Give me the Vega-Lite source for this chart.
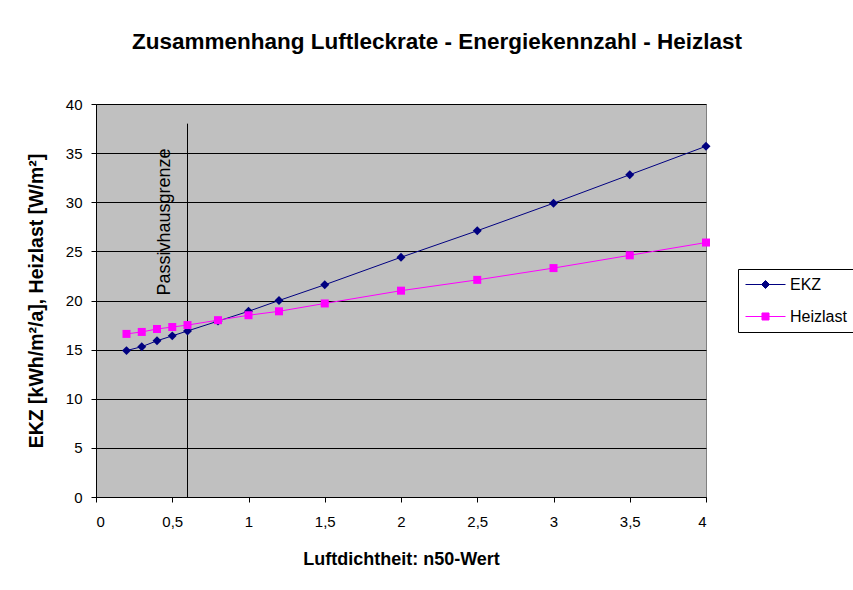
{
  "$schema": "https://vega.github.io/schema/vega-lite/v6.json",
  "width": 610,
  "height": 393,
  "autosize": {"type": "none"},
  "padding": {"left": 96, "top": 104, "right": 147, "bottom": 93},
  "background": "white",
  "title": {
    "text": "Zusammenhang Luftleckrate - Energiekennzahl - Heizlast",
    "font": "Liberation Sans",
    "fontSize": 22.5,
    "fontWeight": "bold",
    "color": "black",
    "anchor": "middle",
    "frame": "group",
    "baseline": "alphabetic",
    "offset": 26,
    "dx": 36
  },
  "config": {
    "view": {"fill": "#C0C0C0", "stroke": "#808080", "strokeWidth": 1},
    "axis": {
      "labelFont": "Liberation Sans",
      "titleFont": "Liberation Sans",
      "labelColor": "black",
      "titleColor": "black",
      "domainColor": "black",
      "tickColor": "black",
      "labelFontSize": 15,
      "titleFontSize": 18,
      "titleFontWeight": "bold",
      "tickSize": 5
    },
    "legend": {
      "labelFont": "Liberation Sans",
      "labelFontSize": 16,
      "labelColor": "black"
    }
  },
  "datasets": {
    "series": [
      {"n50": 0.2, "Reihe": "EKZ", "Wert": 14.9},
      {"n50": 0.3, "Reihe": "EKZ", "Wert": 15.3},
      {"n50": 0.4, "Reihe": "EKZ", "Wert": 15.9},
      {"n50": 0.5, "Reihe": "EKZ", "Wert": 16.4},
      {"n50": 0.6, "Reihe": "EKZ", "Wert": 16.9},
      {"n50": 0.8, "Reihe": "EKZ", "Wert": 17.9},
      {"n50": 1.0, "Reihe": "EKZ", "Wert": 18.9},
      {"n50": 1.2, "Reihe": "EKZ", "Wert": 20.0},
      {"n50": 1.5, "Reihe": "EKZ", "Wert": 21.6},
      {"n50": 2.0, "Reihe": "EKZ", "Wert": 24.4},
      {"n50": 2.5, "Reihe": "EKZ", "Wert": 27.1},
      {"n50": 3.0, "Reihe": "EKZ", "Wert": 29.9},
      {"n50": 3.5, "Reihe": "EKZ", "Wert": 32.8},
      {"n50": 4.0, "Reihe": "EKZ", "Wert": 35.7},
      {"n50": 0.2, "Reihe": "Heizlast", "Wert": 16.6},
      {"n50": 0.3, "Reihe": "Heizlast", "Wert": 16.8},
      {"n50": 0.4, "Reihe": "Heizlast", "Wert": 17.1},
      {"n50": 0.5, "Reihe": "Heizlast", "Wert": 17.3},
      {"n50": 0.6, "Reihe": "Heizlast", "Wert": 17.5},
      {"n50": 0.8, "Reihe": "Heizlast", "Wert": 18.0},
      {"n50": 1.0, "Reihe": "Heizlast", "Wert": 18.5},
      {"n50": 1.2, "Reihe": "Heizlast", "Wert": 18.9},
      {"n50": 1.5, "Reihe": "Heizlast", "Wert": 19.7},
      {"n50": 2.0, "Reihe": "Heizlast", "Wert": 21.0},
      {"n50": 2.5, "Reihe": "Heizlast", "Wert": 22.1},
      {"n50": 3.0, "Reihe": "Heizlast", "Wert": 23.3},
      {"n50": 3.5, "Reihe": "Heizlast", "Wert": 24.6},
      {"n50": 4.0, "Reihe": "Heizlast", "Wert": 25.9}
    ],
    "grenze": [
      {"n50": 0.6, "von": 0, "bis": 38, "textY": 20.5, "label": "Passivhausgrenze"}
    ]
  },
  "layer": [
    {
      "data": {"name": "grenze"},
      "mark": {"type": "rule", "color": "black", "strokeWidth": 1},
      "encoding": {
        "x": {"field": "n50", "type": "quantitative"},
        "y": {"field": "von", "type": "quantitative"},
        "y2": {"field": "bis"}
      }
    },
    {
      "data": {"name": "grenze"},
      "mark": {"type": "text", "angle": 270, "align": "left", "baseline": "bottom", "dy": -14, "font": "Liberation Sans", "fontSize": 18, "color": "black"},
      "encoding": {
        "x": {"field": "n50", "type": "quantitative"},
        "y": {"field": "textY", "type": "quantitative"},
        "text": {"field": "label"}
      }
    },
    {
      "data": {"name": "series"},
      "mark": {"type": "line", "strokeWidth": 1},
      "encoding": {
        "x": {
          "field": "n50", "type": "quantitative",
          "scale": {"domain": [0, 4], "nice": false},
          "axis": {
            "title": "Luftdichtheit: n50-Wert",
            "values": [0, 0.5, 1, 1.5, 2, 2.5, 3, 3.5, 4],
            "labelExpr": "replace(format(datum.value, '~g'), '.', ',')",
            "grid": false,
            "labelPadding": 12,
            "titlePadding": 21
          }
        },
        "y": {
          "field": "Wert", "type": "quantitative",
          "scale": {"domain": [0, 40], "nice": false},
          "axis": {
            "title": "EKZ [kWh/m²/a], Heizlast [W/m²]",
            "titleFontSize": 19.5,
            "values": [0, 5, 10, 15, 20, 25, 30, 35, 40],
            "grid": true,
            "gridColor": "black",
            "gridOpacity": 1,
            "labelPadding": 9,
            "titlePadding": 19
          }
        },
        "color": {
          "field": "Reihe", "type": "nominal",
          "scale": {"domain": ["EKZ", "Heizlast"], "range": ["#000080", "#FF00FF"]},
          "legend": {
            "title": null,
            "orient": "none",
            "legendX": 642,
            "legendY": 165,
            "strokeColor": "black",
            "fillColor": "white",
            "padding": 7,
            "rowPadding": 15,
            "labelOffset": 16,
            "symbolOffset": 12,
            "symbolSize": 256,
            "symbolStrokeWidth": 1,
            "symbolType": "M-2.5,0H2.5M0,-0.5L0.5,0L0,0.5L-0.5,0Z",
            "encode": {
              "symbols": {
                "update": {
                  "shape": {"signal": "datum.value === 'EKZ' ? 'M-2.5,0H2.5M0,-0.5L0.5,0L0,0.5L-0.5,0Z' : 'M-2.5,0H2.5M-0.44,-0.44H0.44V0.44H-0.44Z'"}
                }
              }
            }
          }
        }
      }
    },
    {
      "data": {"name": "series"},
      "transform": [{"filter": "datum.Reihe === 'EKZ'"}],
      "mark": {"type": "point", "shape": "diamond", "filled": true, "opacity": 1, "strokeWidth": 0, "size": 80},
      "encoding": {
        "x": {"field": "n50", "type": "quantitative"},
        "y": {"field": "Wert", "type": "quantitative"},
        "color": {"field": "Reihe", "type": "nominal"}
      }
    },
    {
      "data": {"name": "series"},
      "transform": [{"filter": "datum.Reihe === 'Heizlast'"}],
      "mark": {"type": "point", "shape": "square", "filled": true, "opacity": 1, "strokeWidth": 0, "size": 64},
      "encoding": {
        "x": {"field": "n50", "type": "quantitative"},
        "y": {"field": "Wert", "type": "quantitative"},
        "color": {"field": "Reihe", "type": "nominal"}
      }
    }
  ]
}
